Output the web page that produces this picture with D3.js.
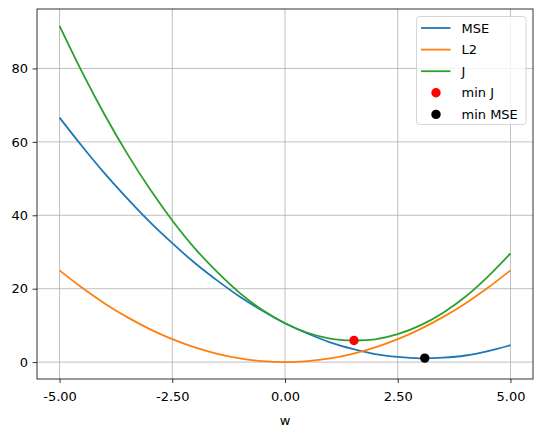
<!DOCTYPE html>
<html>
<head>
<meta charset="utf-8">
<script src="https://cdn.jsdelivr.net/npm/d3@7"></script>
<style>
  body { margin: 0; background: #fff; }
  svg { display: block; font-family: "DejaVu Sans", sans-serif; }
</style>
</head>
<body>
<svg id="chart"></svg>
<script>
const wValues = [-5, -4.5, -4, -3.5, -3, -2.5, -2, -1.5, -1, -0.5, 0, 0.5, 1, 1.5, 2, 2.5, 3, 3.5, 4, 4.5, 5];
const mseValues = [66.6, 58.8, 51.4, 44.6, 38.2, 32.4, 27.0, 22.2, 17.8, 14.0, 10.6, 7.8, 5.4, 3.6, 2.2, 1.4, 1.0, 1.2, 1.8, 3.0, 4.6];
const l2Values = [25, 20.25, 16, 12.25, 9, 6.25, 4, 2.25, 1, 0.25, 0, 0.25, 1, 2.25, 4, 6.25, 9, 12.25, 16, 20.25, 25];
const jValues = [91.6, 79.0, 67.4, 56.8, 47.2, 38.6, 31.0, 24.5, 18.8, 14.2, 10.6, 8.0, 6.4, 5.9, 6.2, 7.6, 10.0, 13.4, 17.8, 23.3, 29.6];
const minJ = [1.53, 5.9];
const minMSE = [3.1, 1.1];
const xTicks = [-5, -2.5, 0, 2.5, 5];
const yTicks = [0, 20, 40, 60, 80];
const seriesNames = ["MSE", "L2", "J"];
const seriesColors = ["#1f77b4", "#ff7f0e", "#2ca02c"];

const width = 543, height = 432;
const margin = { top: 9, right: 10, bottom: 53, left: 37 };
const innerW = width - margin.left - margin.right;
const innerH = height - margin.top - margin.bottom;
const fontSize = 13;

const svg = d3.select("#chart").attr("width", width).attr("height", height);
const g = svg.append("g").attr("transform", `translate(${margin.left},${margin.top})`);

const x = d3.scaleLinear().domain([-5.5, 5.5]).range([0, innerW]);
const y = d3.scaleLinear().domain([-4.6, 96.2]).range([innerH, 0]);

// grid
g.append("g").selectAll("line").data(xTicks).join("line")
  .attr("x1", d => x(d)).attr("x2", d => x(d))
  .attr("y1", 0).attr("y2", innerH)
  .attr("stroke", "#b0b0b0").attr("stroke-width", 0.8);
g.append("g").selectAll("line").data(yTicks).join("line")
  .attr("y1", d => y(d)).attr("y2", d => y(d))
  .attr("x1", 0).attr("x2", innerW)
  .attr("stroke", "#b0b0b0").attr("stroke-width", 0.8);

// curves
const series = [mseValues, l2Values, jValues];
const line = d3.line()
  .x((d, i) => x(wValues[i]))
  .y(d => y(d))
  .curve(d3.curveCatmullRom.alpha(0.5));

series.forEach((vals, k) => {
  g.append("path")
    .datum(vals)
    .attr("d", line)
    .attr("fill", "none")
    .attr("stroke", seriesColors[k])
    .attr("stroke-width", 1.8);
});

// minimum points
g.append("circle").attr("cx", x(minJ[0])).attr("cy", y(minJ[1])).attr("r", 4.7).attr("fill", "red");
g.append("circle").attr("cx", x(minMSE[0])).attr("cy", y(minMSE[1])).attr("r", 4.7).attr("fill", "black");

// axes
const xAxis = g.append("g").attr("transform", `translate(0,${innerH})`)
  .call(d3.axisBottom(x).tickValues(xTicks).tickFormat(d3.format(".2f")).tickSizeOuter(0).tickSize(4).tickPadding(8.5));
const yAxis = g.append("g")
  .call(d3.axisLeft(y).tickValues(yTicks).tickSizeOuter(0).tickSize(4.5).tickPadding(4.5));
[xAxis, yAxis].forEach(a => {
  a.select(".domain").remove();
  a.selectAll("line").attr("stroke", "#000").attr("stroke-width", 0.8);
  a.selectAll("text").attr("font-size", fontSize).attr("fill", "#000")
    .attr("font-family", "DejaVu Sans, sans-serif");
});
xAxis.selectAll("text").text(d => d3.format(".2f")(d).replace("−", "-"));

g.append("rect").attr("width", innerW).attr("height", innerH)
  .attr("fill", "none").attr("stroke", "#000").attr("stroke-width", 0.8);

svg.append("text")
  .attr("x", margin.left + x(0)).attr("y", 425)
  .attr("text-anchor", "middle").attr("font-size", fontSize).text("w");

// legend
const legend = svg.append("g").attr("transform", "translate(416.5,16.5)");
legend.append("rect").attr("width", 109.5).attr("height", 108).attr("rx", 3)
  .attr("fill", "#fff").attr("fill-opacity", 0.8)
  .attr("stroke", "#cccccc").attr("stroke-width", 0.8);
const legendItems = [
  { name: seriesNames[0], color: seriesColors[0], type: "line" },
  { name: seriesNames[1], color: seriesColors[1], type: "line" },
  { name: seriesNames[2], color: seriesColors[2], type: "line" },
  { name: "min J", color: "red", type: "dot" },
  { name: "min MSE", color: "black", type: "dot" }
];
const rows = legend.selectAll("g.row").data(legendItems).join("g")
  .attr("transform", (d, i) => `translate(0,${11.5 + i * 21.6})`);
rows.filter(d => d.type === "line").append("line")
  .attr("x1", 4.5).attr("x2", 34).attr("stroke", d => d.color).attr("stroke-width", 1.8);
rows.filter(d => d.type === "dot").append("circle")
  .attr("cx", 19.5).attr("r", 4.7).attr("fill", d => d.color);
rows.append("text").attr("x", 45).attr("dy", "0.35em")
  .attr("font-size", fontSize).text(d => d.name);
</script>
</body>
</html>
